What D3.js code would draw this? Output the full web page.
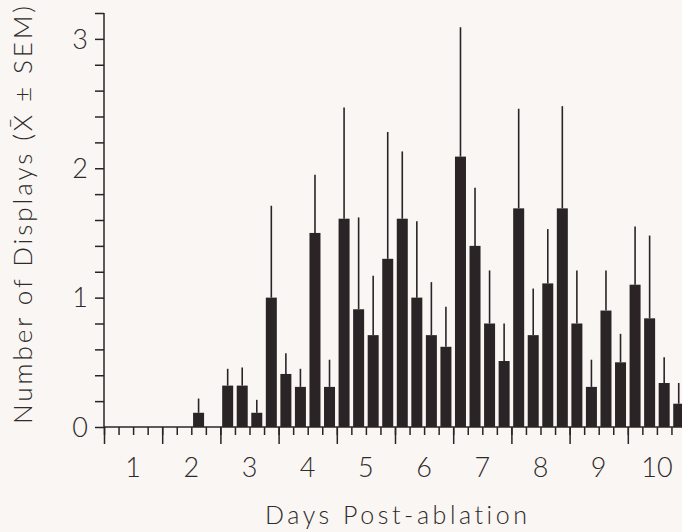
<!DOCTYPE html>
<html>
<head>
<meta charset="utf-8">
<script src="https://cdn.jsdelivr.net/npm/d3@7"></script>
<style>
  body { margin: 0; background: #f9f6f3; }
  svg { display: block; }
  text { font-family: Lato, "Open Sans", sans-serif; font-weight: 300; fill: #2e2a2a; font-variant-ligatures: none; }
</style>
</head>
<body>
<svg id="chart" width="682" height="532"></svg>
<script>
// four observation periods per day, days 1..10
const days = [1, 2, 3, 4, 5, 6, 7, 8, 9, 10]
const means = [
    0, 0, 0, 0,
    0, 0, 0.11, 0,
    0.32, 0.32, 0.11, 1.0,
    0.41, 0.31, 1.50, 0.31,
    1.61, 0.91, 0.71, 1.30,
    1.61, 1.0, 0.71, 0.62,
    2.09, 1.40, 0.80, 0.51,
    1.69, 0.71, 1.11, 1.69,
    0.80, 0.31, 0.90, 0.50,
    1.10, 0.84, 0.34, 0.18
]
const sems = [
    0, 0, 0, 0,
    0, 0, 0.11, 0,
    0.13, 0.14, 0.10, 0.71,
    0.16, 0.14, 0.45, 0.21,
    0.86, 0.71, 0.46, 0.98,
    0.52, 0.59, 0.41, 0.31,
    1.00, 0.45, 0.41, 0.29,
    0.77, 0.36, 0.42, 0.79,
    0.41, 0.21, 0.31, 0.22,
    0.45, 0.64, 0.20, 0.16
]
const yTicks = d3.range(0, 3.21, 0.2)
const yLabels = [0, 1, 2, 3]

const INK = "#2b2426"
const slotsPerDay = 4

const svg = d3.select("#chart")

// x in "days elapsed", y in displays
const x = d3.scaleLinear().domain([0, 10]).range([104, 686])
const y = d3.scaleLinear().domain([0, 3.2]).range([427, 13])

const slotW = x(1 / slotsPerDay) - x(0)
const barW = 11

let data = means.map((m, i) => ({i, mean: m, sem: sems[i]}))
    .filter(d => d.mean > 0)

// error lines (upward only)
svg.append("g").selectAll("line")
    .data(data.filter(d => d.sem > 0))
    .join("line")
        .attr("x1", d => x(d.i / slotsPerDay) + slotW / 2)
        .attr("x2", d => x(d.i / slotsPerDay) + slotW / 2)
        .attr("y1", d => y(d.mean))
        .attr("y2", d => y(d.mean + d.sem))
        .attr("stroke", INK)
        .attr("stroke-width", 1.6)

// bars
svg.append("g").selectAll("rect")
    .data(data)
    .join("rect")
        .attr("x", d => x(d.i / slotsPerDay) + (slotW - barW) / 2)
        .attr("y", d => y(d.mean))
        .attr("width", barW)
        .attr("height", d => y(0) - y(d.mean))
        .attr("fill", INK)

// y axis
let yAxis = svg.append("g")
    .attr("transform", `translate(${x(0)},0)`)
    .call(d3.axisLeft(y).tickValues(yTicks).tickSize(9).tickFormat(() => ""))
yAxis.select(".domain").attr("d", `M0,${y(0)}V${y(3.2)}`)
yAxis.selectAll("path, line").attr("stroke", INK).attr("stroke-width", 1.5)

svg.append("g").selectAll("text")
    .data(yLabels)
    .join("text")
        .attr("x", 88)
        .attr("y", d => y(d))
        .attr("dy", "0.36em")
        .attr("text-anchor", "end")
        .style("font-size", "27px")
        .text(d => d)

// x axis: minor ticks at each period, longer ticks at day boundaries
let xMinor = svg.append("g")
    .attr("transform", `translate(0,${y(0)})`)
    .call(d3.axisBottom(x).tickValues(d3.range(0, 10.01, 1 / slotsPerDay)).tickSize(8).tickFormat(() => ""))
xMinor.select(".domain").attr("d", `M${x(0)},0H${x(10)}`)
xMinor.selectAll("path, line").attr("stroke", INK).attr("stroke-width", 1.5)

let xMajor = svg.append("g")
    .attr("transform", `translate(0,${y(0)})`)
    .call(d3.axisBottom(x).tickValues(d3.range(0, 11)).tickSize(17).tickFormat(() => ""))
xMajor.select(".domain").remove()
xMajor.selectAll("line").attr("stroke", INK).attr("stroke-width", 1.5)

// day labels sit mid-day
svg.append("g").selectAll("text")
    .data(days)
    .join("text")
        .attr("x", d => x(d - 0.5))
        .attr("y", 467)
        .attr("dy", "0.36em")
        .attr("text-anchor", "middle")
        .style("font-size", "27px")
        .text(d => d)

// axis titles
svg.append("text")
    .attr("x", 396)
    .attr("y", 524)
    .attr("text-anchor", "middle")
    .attr("textLength", 262)
    .attr("lengthAdjust", "spacing")
    .style("font-size", "25px")
    .text("Days  Post-ablation")

svg.append("text")
    .attr("transform", "translate(32,215) rotate(-90)")
    .attr("text-anchor", "middle")
    .attr("textLength", 418)
    .attr("lengthAdjust", "spacing")
    .style("font-size", "26px")
    .text("Number of Displays (X\u0304 \u00b1 SEM)")
</script>
</body>
</html>
